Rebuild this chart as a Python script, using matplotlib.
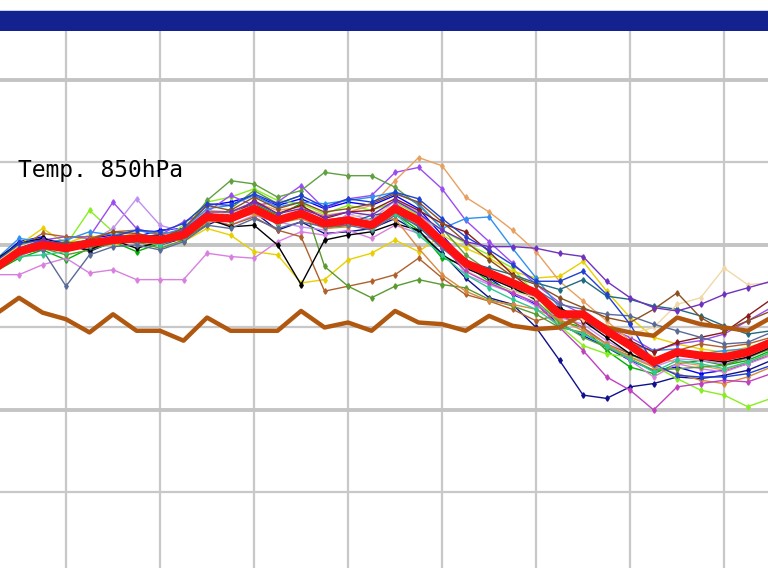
import matplotlib
matplotlib.use("Agg")
import matplotlib.pyplot as plt
from matplotlib.patches import Rectangle

# forecast time (hours), one value every 6 h
hours = list(range(-18, 181, 6))

# ensemble mean (red) and long-term mean (brown), deg C
ens_mean = [-1.4, -0.4, 0.0, -0.2, 0.1, 0.3, 0.4, 0.3, 0.6, 1.7, 1.6, 2.2, 1.5, 1.9, 1.3, 1.5, 1.2,
            2.2, 1.5, 0.2, -1.1, -1.7, -2.3, -2.9, -4.2, -4.2, -5.2, -6.1, -7.1, -6.5, -6.7, -6.8, -6.5, -5.9]
climate = [-4.2, -3.2, -4.1, -4.5, -5.3, -4.2, -5.2, -5.2, -5.8, -4.4, -5.2, -5.2, -5.2, -4.0, -5.0, -4.7, -5.2,
           -4.0, -4.7, -4.8, -5.2, -4.3, -4.9, -5.1, -5.0, -4.2, -5.0, -5.3, -5.5, -4.4, -4.8, -5.0, -5.2, -4.4]

# ensemble members
members = {
    "#0000ff": [-1.0, 0.2, 0.5, -0.3, 0.4, 0.6, 0.5, 0.9, 1.0, 2.4, 2.6, 3.0, 2.4, 2.8, 2.2, 2.6, 2.4,
                3.0, 2.2, 0.6, -1.0, -2.0, -3.0, -3.6, -4.8, -5.5, -6.2, -7.0, -7.6, -7.4, -7.8, -7.6, -7.2, -6.6],
    "#10108c": [-1.2, -0.2, 0.4, 0.1, -0.4, 0.2, 0.6, 0.0, 0.4, 1.2, 1.8, 2.0, 0.9, 1.4, 0.7, 0.8, 1.0,
                1.6, 0.8, -0.5, -2.0, -3.2, -3.6, -5.0, -7.0, -9.1, -9.3, -8.6, -8.4, -8.0, -8.1, -7.9, -7.6, -7.0],
    "#00b000": [-1.6, -0.8, -0.3, -0.9, -0.2, 0.2, -0.4, 0.1, 0.9, 2.0, 1.4, 2.5, 1.8, 2.5, 1.0, 1.2, 1.6,
                1.9, 0.9, -0.8, -1.2, -2.2, -2.8, -3.1, -4.6, -5.0, -6.4, -7.4, -7.8, -7.2, -7.0, -7.3, -7.0, -6.4],
    "#88ee22": [-1.3, -0.6, 0.2, 0.0, 2.1, 0.8, 0.6, 0.2, 1.2, 2.6, 2.9, 3.4, 2.7, 2.5, 1.9, 2.4, 2.1,
                2.6, 1.8, 0.9, 0.1, -0.6, -1.4, -3.0, -4.9, -6.1, -6.6, -6.8, -7.3, -8.1, -8.8, -9.1, -9.8, -9.3],
    "#e8d000": [-1.1, 0.0, 1.0, 0.1, 0.6, 0.0, 0.3, 0.5, 0.2, 1.0, 0.6, -0.4, -0.6, -2.3, -2.1, -0.9, -0.5,
                0.3, -0.4, 0.6, -0.2, -0.8, -1.6, -2.0, -1.9, -1.0, -2.8, -4.4, -5.6, -6.0, -6.3, -6.5, -6.2, -5.8],
    "#9a4cf0": [-1.4, -0.5, 0.3, 0.5, 0.5, 2.6, 1.0, 0.6, 1.4, 2.0, 3.0, 2.4, 2.6, 3.6, 2.2, 2.8, 3.0,
                4.4, 4.7, 3.4, 1.5, 0.2, -1.1, -2.4, -3.5, -4.2, -5.0, -5.6, -6.4, -6.0, -5.8, -5.4, -4.6, -3.8],
    "#d880e0": [-1.8, -1.8, -1.2, -0.8, -1.7, -1.5, -2.1, -2.1, -2.1, -0.5, -0.7, -0.8, 0.2, 0.8, 0.6, 0.9, 0.4,
                1.2, 0.7, 0.1, -1.4, -2.0, -2.6, -3.2, -4.0, -5.1, -6.0, -7.0, -8.0, -7.2, -7.5, -7.7, -7.2, -6.7],
    "#c090f0": [-1.5, -0.7, -0.1, -0.3, 0.2, 1.0, 2.8, 1.2, 0.8, 1.6, 1.2, 1.8, 1.4, 1.1, 0.9, 1.9, 1.5,
                2.7, 2.0, 0.4, -1.8, -2.4, -2.9, -3.7, -4.4, -4.8, -5.8, -6.6, -7.4, -6.9, -7.0, -7.2, -6.9, -6.2],
    "#e8a060": [-1.2, -0.3, 0.1, -0.4, 0.0, 0.4, 0.7, 0.4, 0.9, 2.1, 2.0, 2.6, 2.1, 2.3, 1.8, 2.0, 2.4,
                3.9, 5.3, 4.8, 2.9, 2.0, 0.9, -0.4, -2.2, -3.4, -4.6, -5.8, -6.8, -7.1, -7.3, -7.6, -7.1, -6.6],
    "#b0602a": [-1.3, -0.2, 0.7, 0.5, 0.4, 0.8, 0.9, 0.7, 0.8, 1.5, 1.2, 1.7, 0.9, 0.5, -2.8, -2.5, -2.2,
                -1.8, -0.8, -2.0, -3.0, -3.4, -3.9, -4.6, -4.2, -5.0, -6.0, -6.6, -7.2, -6.4, -6.0, -6.2, -6.0, -5.6],
    "#5a9a30": [-1.5, -0.6, -0.2, -0.6, -0.3, 0.1, 0.2, -0.2, 0.3, 1.3, 2.2, 3.3, 2.5, 3.0, -1.3, -2.5, -3.2,
                -2.5, -2.1, -2.4, -2.6, -3.3, -3.7, -4.2, -5.0, -5.3, -6.2, -6.9, -7.6, -7.5, -7.4, -7.3, -6.8, -6.3],
    "#60a040": [-1.0, 0.0, 0.3, -0.1, 0.2, 0.5, 0.6, 0.3, 0.8, 2.7, 3.9, 3.7, 2.9, 3.3, 4.4, 4.2, 4.2,
                3.5, 2.4, 1.0, -0.6, -1.6, -2.4, -3.4, -4.7, -5.6, -6.2, -6.7, -7.0, -6.4, -6.6, -6.9, -6.6, -6.0],
    "#3090f0": [-0.9, 0.4, 0.2, 0.3, 0.8, 0.6, 0.9, 0.6, 1.0, 2.2, 2.4, 3.0, 2.3, 2.6, 2.5, 2.7, 2.9,
                3.2, 2.5, 1.0, 1.6, 1.7, -0.2, -2.0, -3.8, -4.6, -5.4, -6.0, -6.4, -6.3, -6.6, -6.4, -6.3, -5.7],
    "#000000": [-0.9, 0.1, 0.4, 0.0, -0.3, 0.3, -0.2, 0.2, 0.6, 1.6, 1.1, 1.2, 0.0, -2.4, 0.3, 0.6, 0.8,
                1.3, 0.9, -0.6, -1.4, -2.0, -2.6, -3.3, -3.8, -4.6, -5.6, -6.6, -7.2, -6.6, -6.9, -7.1, -6.8, -6.2],
    "#206a80": [-1.4, -0.3, -0.2, 0.2, -0.1, 0.5, 0.1, 0.4, 0.3, 1.5, 1.9, 2.5, 1.2, 2.0, 1.4, 1.3, 1.8,
                2.0, 1.1, -0.2, -1.0, -1.4, -1.8, -2.3, -2.7, -2.1, -3.1, -3.3, -3.7, -3.9, -4.3, -4.9, -5.4, -5.2],
    "#8b1a1a": [-1.2, -0.4, 0.1, -0.1, 0.2, 0.2, 0.5, 0.6, 0.5, 1.8, 1.7, 2.7, 1.9, 2.4, 1.6, 2.0, 2.1,
                2.8, 2.1, 1.3, 0.8, -0.4, -1.8, -2.9, -4.0, -4.6, -5.2, -5.8, -6.5, -5.9, -5.6, -5.3, -4.3, -3.3],
    "#f0d8a8": [-1.1, -0.1, 0.3, 0.0, 0.3, 0.4, 0.6, 0.4, 0.7, 2.0, 1.9, 2.4, 1.7, 2.2, 1.5, 1.7, 1.9,
                2.4, 1.7, 0.1, -1.5, -2.3, -2.8, -3.2, -4.3, -4.5, -4.9, -5.4, -5.0, -3.6, -3.2, -1.4, -2.4, -2.3],
    "#d88a40": [-1.4, -0.5, 0.0, -0.3, 0.0, 0.3, 0.2, 0.5, 0.4, 1.4, 1.5, 1.9, 1.3, 1.6, 1.0, 1.1, 1.4,
                1.6, -0.2, -1.8, -2.8, -3.4, -3.6, -3.9, -4.5, -5.2, -6.0, -6.8, -7.4, -7.8, -8.2, -8.4, -8.0, -7.4],
    "#5a6a98": [-1.6, -0.5, -0.3, -2.5, -0.6, -0.1, 0.0, -0.3, 0.2, 1.2, 1.0, 1.6, 1.0, 1.4, 1.1, 1.2, 0.9,
                1.8, 1.2, -0.2, -1.3, -1.9, -2.4, -2.7, -3.6, -3.9, -4.2, -4.3, -4.8, -5.2, -5.6, -6.0, -5.9, -5.3],
    "#8b5020": [-1.3, -0.3, 0.2, 0.1, 0.3, 0.8, 0.7, 0.4, 1.0, 2.4, 2.1, 2.9, 2.2, 2.6, 2.0, 2.2, 2.5,
                3.1, 2.6, 1.4, 0.2, -0.9, -1.9, -2.4, -3.2, -3.8, -4.4, -4.7, -3.9, -2.9, -4.4, -5.2, -4.6, -4.0],
    "#c040c0": [-1.2, -0.6, -0.1, -0.2, 0.0, 0.2, 0.4, 0.1, 0.5, 1.9, 1.6, 2.3, 1.6, 2.1, 1.5, 1.7, 1.2,
                2.5, 1.6, 0.0, -1.6, -2.3, -2.9, -3.5, -5.0, -6.4, -8.0, -8.8, -10.0, -8.6, -8.4, -8.2, -8.3, -7.8],
    "#2040d0": [-1.0, 0.1, 0.3, -0.1, 0.2, 0.5, 0.9, 0.8, 1.3, 2.5, 2.4, 3.1, 2.5, 3.0, 2.3, 2.8, 2.6,
                3.2, 2.8, 1.6, 0.5, -0.3, -1.2, -2.2, -2.2, -1.6, -3.0, -4.8, -7.2, -7.9, -8.0, -8.0, -7.8, -7.3],
    "#7030c0": [-1.3, -0.2, 0.3, 0.0, 0.1, 0.4, 0.3, 0.3, 0.9, 2.0, 2.0, 2.6, 1.9, 2.2, 1.7, 2.0, 1.8,
                2.7, 1.9, 0.9, 0.2, -0.1, -0.1, -0.2, -0.5, -0.7, -2.2, -3.2, -3.8, -4.0, -3.6, -3.0, -2.6, -2.2],
    "#30c890": [-1.5, -0.7, -0.6, -0.4, 0.0, 0.2, 0.3, 0.0, 0.5, 1.6, 1.5, 2.1, 1.4, 1.8, 1.2, 1.4, 1.0,
                1.9, 0.6, -0.6, -1.8, -2.6, -3.3, -3.9, -4.9, -5.4, -6.1, -6.9, -7.7, -7.0, -7.2, -7.5, -7.1, -6.5],
}

fig = plt.figure(figsize=(7.68, 5.68), dpi=100)
fig.patch.set_facecolor("white")

# header bar
fig.patches.append(Rectangle((0, 0.9454), 1, 0.0352, transform=fig.transFigure,
                             facecolor="#13228e", edgecolor="none", zorder=5))
fig.patches.append(Rectangle((0, 0.9806), 1, 0.0025, transform=fig.transFigure,
                             facecolor="#c8d0f0", edgecolor="none", zorder=5))

ax = fig.add_axes([0, 0, 1, 0.9454])
ax.set_xlim(-16.85, 179.2)
ax.set_ylim(-19.58, 12.97)

# grid
for h in range(0, 180, 24):
    ax.axvline(h, color="#c8c8c8", lw=1.6, zorder=1)
for t in [10, 0, -10]:
    ax.axhline(t, color="#c4c4c4", lw=2.8, zorder=1)
for t in [5, -5, -15]:
    ax.axhline(t, color="#c8c8c8", lw=1.6, zorder=1)

for color, vals in members.items():
    ax.plot(hours, vals, color=color, lw=1.0, marker="d", ms=2.8, zorder=3)

ax.plot(hours, climate, color="#b0580f", lw=3.2, zorder=4)
ax.plot(hours, ens_mean, color="#ff1010", lw=5.8, zorder=5)

ax.text(0.0234, 0.729, "Temp. 850hPa", transform=ax.transAxes, fontsize=16.5,
        family="DejaVu Sans Mono", va="baseline", ha="left", zorder=6)

for s in ax.spines.values():
    s.set_visible(False)
ax.set_xticks([])
ax.set_yticks([])

fig.savefig("out.png", dpi=100)
